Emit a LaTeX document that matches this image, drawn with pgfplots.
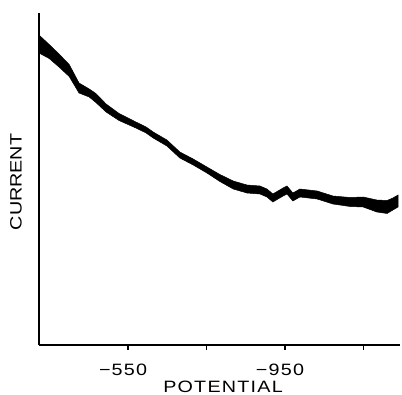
\documentclass[border=0pt]{standalone}
\usepackage{pgfplots}
\pgfplotsset{compat=1.18}
\usepackage{fontspec}
\setmainfont{Liberation Sans}
\newfontfamily\wide[FakeStretch=1.2]{Liberation Sans}
\newfontfamily\widesp[FakeStretch=1.2, LetterSpace=7.5]{Liberation Sans}
\begin{document}
\begin{tikzpicture}
\useasboundingbox (-39bp,-50bp) rectangle (363bp,345bp);
\begin{axis}[
  scale only axis, width=361bp, height=332bp,
  xmin=-1243, xmax=-323, x dir=reverse,
  ymin=0, ymax=332,
  axis x line*=bottom, axis y line*=left,
  x axis line style={-, line width=1.5bp},
  y axis line style={-, line width=1.8bp},
  xtick={-550,-750,-950,-1150}, xticklabels={−550,,−950,},
  ytick=\empty,
  tick align=outside, major tick length=5bp,
  tick style={black, line width=1.2bp},
  xticklabel style={font=\widesp\fontsize{16.5}{18}\selectfont, anchor=center, yshift=-19.5bp, xshift=-5bp},
  xlabel={POTENTIAL},
  xlabel style={font=\widesp\fontsize{16.5}{18}\selectfont, at={(axis description cs:0.5,0)}, anchor=center, yshift=-42bp, xshift=3.5bp},
  ylabel={CURRENT},
  ylabel style={font=\wide\fontsize{16.5}{18}\selectfont, at={(axis description cs:-0.0637,0.491)}, anchor=center},
]
\addplot[fill=black, draw=black, line width=0.5bp] coordinates {
(-323,310) (-349,300.5) (-374,291) (-400,280.5) (-425,262) (-451,256) (-468,251.5) (-494,241) (-527,231.5) (-570,223) (-596,218) (-614,213) (-649,205) (-682,193) (-716,186) (-751,178) (-784,170.5) (-818,164) (-853,160) (-886,159) (-904,156) (-919,151) (-945,157) (-955,159) (-970,152) (-988,156) (-1032,154) (-1072,149) (-1116,147.5) (-1149,148) (-1184,145) (-1210,144.5) (-1225,147) (-1238,150)
(-1238,138) (-1225,135) (-1210,131.5) (-1184,133) (-1149,138) (-1116,138.5) (-1072,141) (-1032,146) (-988,148) (-970,144) (-955,151) (-945,149) (-919,143) (-904,148) (-886,151) (-853,152) (-818,156) (-784,163.5) (-751,172) (-716,180) (-682,187) (-649,199) (-614,207) (-596,212) (-570,217) (-527,224.5) (-494,233) (-468,242.5) (-451,248) (-425,252) (-400,268.5) (-374,278) (-349,286.5) (-323,292)
} -- cycle;
\end{axis}
\end{tikzpicture}
\end{document}
